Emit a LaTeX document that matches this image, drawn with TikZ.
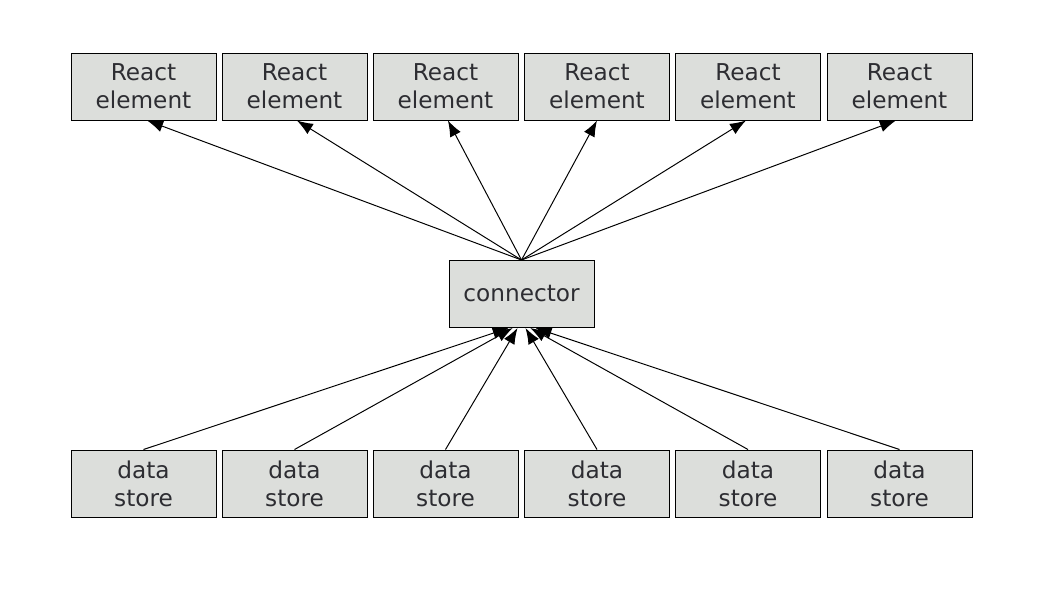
\documentclass[tikz,border=0pt]{standalone}
\usepackage{fontspec}
\setmainfont{DejaVu Sans}
\usepackage{tikz}
\usetikzlibrary{arrows.meta}
\usetikzlibrary{positioning}
\usetikzlibrary{calc}
\definecolor{boxgray}{RGB}{220,222,219}
\definecolor{txtgray}{RGB}{45,45,50}
\tikzstyle{elem}=[
        rectangle,
        draw,
        line width=0.7pt,
        fill=boxgray,
        text=txtgray,
        align=center,
        minimum width=3.625cm,
        minimum height=1.675cm,
        inner sep=0pt,
        font=\fontsize{16.5}{20}\selectfont
]
\tikzstyle{store}=[elem]
\tikzstyle{conn}=[elem]
\tikzstyle{suite}=[-{Latex[length=0.4cm,width=0.3cm]},line width=0.7pt]

\begin{document}
\begin{tikzpicture}
\useasboundingbox (0,0) rectangle (26.45,-14.875);
\node[elem] (re1) at (3.5875,-2.1625) {React\\element};
\node[elem] (re2) at (7.3625,-2.1625) {React\\element};
\node[elem] (re3) at (11.1375,-2.1625) {React\\element};
\node[elem] (re4) at (14.925,-2.1625) {React\\element};
\node[elem] (re5) at (18.7,-2.1625) {React\\element};
\node[elem] (re6) at (22.4875,-2.1625) {React\\element};
\node[conn] (connector) at (13.0375,-7.35) {connector};
\node[store] (ds1) at (3.5875,-12.0875) {data\\store};
\node[store] (ds2) at (7.3625,-12.0875) {data\\store};
\node[store] (ds3) at (11.1375,-12.0875) {data\\store};
\node[store] (ds4) at (14.925,-12.0875) {data\\store};
\node[store] (ds5) at (18.7,-12.0875) {data\\store};
\node[store] (ds6) at (22.4875,-12.0875) {data\\store};
%points d'arrivee
\coordinate (out1) at ($(re1.south)+(0.09,0)$);
\coordinate (out2) at ($(re2.south)+(0.06,0)$);
\coordinate (out3) at ($(re3.south)+(0.06,0)$);
\coordinate (out4) at ($(re4.south)+(0,0)$);
\coordinate (out5) at ($(re5.south)+(-0.05,0)$);
\coordinate (out6) at ($(re6.south)+(-0.09,0)$);
\coordinate (in1) at ($(connector.south)+(-0.32,0)$);
\coordinate (in2) at ($(connector.south)+(-0.22,0)$);
\coordinate (in3) at ($(connector.south)+(-0.1,0)$);
\coordinate (in4) at ($(connector.south)+(0.1,0)$);
\coordinate (in5) at ($(connector.south)+(0.22,0)$);
\coordinate (in6) at ($(connector.south)+(0.35,0)$);
%fleches vers les elements
\draw[suite] (connector.north) -- (out1);
\draw[suite] (connector.north) -- (out2);
\draw[suite] (connector.north) -- (out3);
\draw[suite] (connector.north) -- (out4);
\draw[suite] (connector.north) -- (out5);
\draw[suite] (connector.north) -- (out6);
%fleches depuis les stores
\draw[suite] (ds1.north) -- (in1);
\draw[suite] (ds2.north) -- (in2);
\draw[suite] (ds3.north) -- (in3);
\draw[suite] (ds4.north) -- (in4);
\draw[suite] (ds5.north) -- (in5);
\draw[suite] (ds6.north) -- (in6);
\end{tikzpicture}
\end{document}
